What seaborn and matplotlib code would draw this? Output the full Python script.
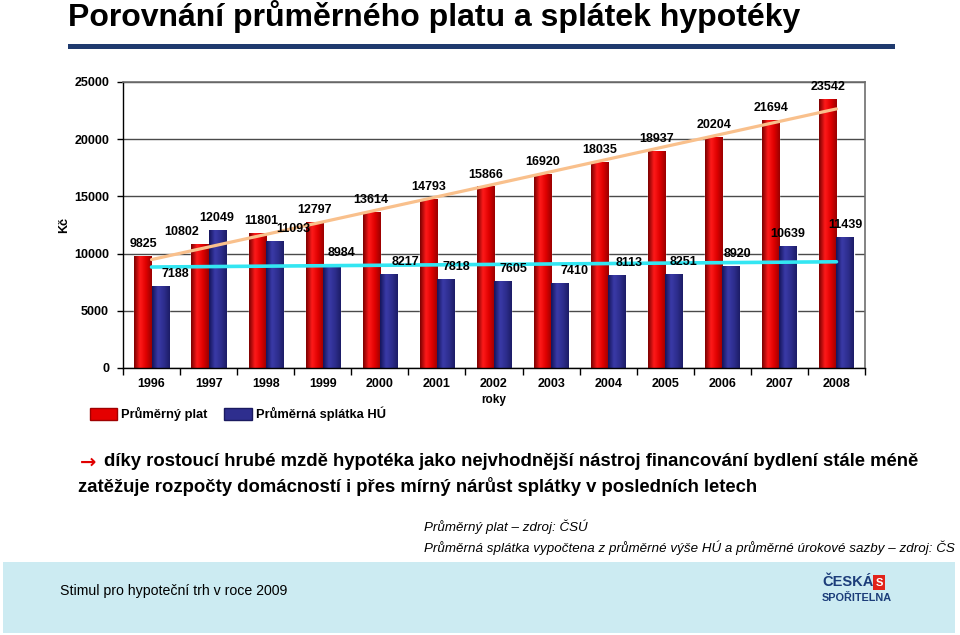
import numpy as np
import pandas as pd
import matplotlib
matplotlib.use('Agg')
import matplotlib.pyplot as plt
from matplotlib.patches import Rectangle, Patch
import seaborn as sns

# data
roky = ['1996', '1997', '1998', '1999', '2000', '2001', '2002',
        '2003', '2004', '2005', '2006', '2007', '2008']
prumerny_plat = [9825, 10802, 11801, 12797, 13614, 14793, 15866,
                 16920, 18035, 18937, 20204, 21694, 23542]
prumerna_splatka = [7188, 12049, 11093, 8984, 8217, 7818, 7605,
                    7410, 8113, 8251, 8920, 10639, 11439]
serie = ['Průměrný plat', 'Průměrná splátka HÚ']

# posun popisků (px) - ručně jako v originálu
posun_plat = [0, -18, 4, 0, 0, 0, 0, 0, 0, 0, 0, 0, 0]
posun_splatka = [15, 0, 19, 10, 17, 11, 11, 15, 12, 10, 7, 0, 0]

sns.set_theme(style='white')
FONT = ['Liberation Sans', 'DejaVu Sans']
plt.rcParams['font.family'] = FONT
plt.rcParams['text.color'] = 'black'
plt.rcParams['axes.labelcolor'] = 'black'
plt.rcParams['xtick.color'] = 'black'
plt.rcParams['ytick.color'] = 'black'

RED = '#E50000'
BLUE = '#2E2E8E'

df = pd.DataFrame({
    'rok': roky * 2,
    'hodnota': prumerny_plat + prumerna_splatka,
    'serie': [serie[0]] * len(roky) + [serie[1]] * len(roky),
})

fig = plt.figure(figsize=(9.6, 6.35), dpi=100)
ax = fig.add_axes([123 / 960, 1 - 368 / 635, 742 / 960, 286 / 635])

sns.barplot(data=df, x='rok', y='hodnota', hue='serie', palette=[RED, BLUE],
            width=0.6, gap=0, ax=ax, legend=False, zorder=2)

# gradient (válcový efekt)
grad_red = matplotlib.colors.LinearSegmentedColormap.from_list(
    'r', ['#7A0000', '#FF1A1A', '#E00000', '#9A0000'])
grad_blue = matplotlib.colors.LinearSegmentedColormap.from_list(
    'b', ['#14145A', '#3A3AA8', '#2E2E8E', '#1C1C66'])
g = np.linspace(0, 1, 64).reshape(1, -1)
bary = [p for p in ax.patches if p.get_height() > 0]
for i, p in enumerate(bary):
    x0, y0 = p.get_x(), p.get_y()
    w, h = p.get_width(), p.get_height()
    cm = grad_red if i < len(roky) else grad_blue
    im = ax.imshow(g, cmap=cm, extent=(x0, x0 + w, y0, y0 + h),
                   aspect='auto', zorder=2.5, interpolation='bicubic')
    im.set_clip_path(p)

# lineární trendy
xs = np.arange(len(roky))
sns.regplot(x=xs, y=prumerny_plat, scatter=False, ci=None, ax=ax,
            line_kws=dict(color='#F9C08C', lw=2.3, zorder=3))
sns.regplot(x=xs, y=prumerna_splatka, scatter=False, ci=None, ax=ax,
            line_kws=dict(color='#33E6F2', lw=2.6, zorder=3))

# popisky hodnot
for i in range(len(roky)):
    ax.annotate(str(prumerny_plat[i]), (i - 0.15, prumerny_plat[i]),
                xytext=(posun_plat[i] * 0.72, 8.6), textcoords='offset points',
                ha='center', va='center', fontsize=9, fontweight='bold', zorder=5)
    ax.annotate(str(prumerna_splatka[i]), (i + 0.15, prumerna_splatka[i]),
                xytext=(posun_splatka[i] * 0.72, 8.6), textcoords='offset points',
                ha='center', va='center', fontsize=9, fontweight='bold', zorder=5)

ax.set_xlim(-0.5, len(roky) - 0.5)
ax.set_ylim(0, 25000)
ax.set_yticks(range(0, 25001, 5000))
ax.set_yticklabels([str(v) for v in range(0, 25001, 5000)],
                   fontsize=9, fontweight='bold')
ax.set_xticks(xs)
ax.set_xticklabels(roky, fontsize=9, fontweight='bold')
ax.set_xticks(np.arange(-0.5, len(roky)), minor=True)
ax.tick_params(axis='x', which='major', length=0, pad=7)
ax.tick_params(axis='x', which='minor', length=5, width=1, color='black',
               direction='out', bottom=True)
ax.tick_params(axis='y', length=4, width=1, color='black', direction='out',
               left=True, pad=6)
ax.yaxis.grid(True, color='#4A4A4A', lw=1)
ax.set_axisbelow(True)
for s in ['top', 'right']:
    ax.spines[s].set_color('#6E6E6E')
    ax.spines[s].set_linewidth(1.2)
for s in ['left', 'bottom']:
    ax.spines[s].set_color('black')
    ax.spines[s].set_linewidth(1)
ax.set_xlabel('roky', fontsize=8.5, fontweight='bold', labelpad=3)
ax.set_ylabel('Kč', fontsize=9, fontweight='bold', labelpad=3)

# legenda
handles = [Patch(facecolor=RED, edgecolor='#A00000'),
           Patch(facecolor=BLUE, edgecolor='#1A1A60')]
fig.legend(handles, serie, loc='center left',
           bbox_to_anchor=(78 / 960, 1 - 414 / 635), ncol=2, frameon=False,
           handlelength=2.1, handleheight=1.0, handletextpad=0.35,
           columnspacing=1.3, prop=dict(family=FONT, weight='bold', size=9.3))

# titulek a linka
fig.text(68 / 960, 1 - 17 / 635, 'Porovnání průměrného platu a splátek hypotéky',
         ha='left', va='center', fontsize=23, fontweight='bold')
fig.add_artist(Rectangle((68 / 960, 1 - 49 / 635), 827 / 960, 5 / 635,
                         transform=fig.transFigure, color='#1F3A6E', lw=0))

# komentář
fig.text(80 / 960, 1 - 462 / 635, '→', ha='left', va='center', color='#E00000',
         fontsize=14, fontweight='bold', family=['DejaVu Sans'])
fig.text(104 / 960, 1 - 462 / 635,
         'díky rostoucí hrubé mzdě hypotéka jako nejvhodnější nástroj financování bydlení stále méně',
         ha='left', va='center', fontsize=13.3, fontweight='bold')
fig.text(78 / 960, 1 - 486 / 635,
         'zatěžuje rozpočty domácností i přes mírný nárůst splátky v posledních letech',
         ha='left', va='center', fontsize=13.3, fontweight='bold')

# zdroje
fig.text(424 / 960, 1 - 527 / 635, 'Průměrný plat – zdroj: ČSÚ',
         ha='left', va='center', fontsize=9.6, style='italic')
fig.text(424 / 960, 1 - 548 / 635,
         'Průměrná splátka vypočtena z průměrné výše HÚ a průměrné úrokové sazby – zdroj: ČS',
         ha='left', va='center', fontsize=9.6, style='italic')

# patička
fig.add_artist(Rectangle((3 / 960, 1 - 633 / 635), 952 / 960, 71 / 635,
                         transform=fig.transFigure, color='#CCEBF2', lw=0))
fig.text(60 / 960, 1 - 591 / 635, 'Stimul pro hypoteční trh v roce 2009',
         ha='left', va='center', fontsize=10.2)
fig.text(822 / 960, 1 - 582 / 635, 'ČESKÁ', ha='left', va='center',
         fontsize=10.5, fontweight='bold', color='#1C3D7A')
fig.text(822 / 960, 1 - 598 / 635, 'SPOŘITELNA', ha='left', va='center',
         fontsize=7.8, fontweight='bold', color='#1C3D7A')
fig.add_artist(Rectangle((873 / 960, 1 - 590 / 635), 12 / 960, 15 / 635,
                         transform=fig.transFigure, color='#E2231A', lw=0))
fig.text(879 / 960, 1 - 582.5 / 635, 'S', ha='center', va='center',
         fontsize=8, fontweight='bold', color='white')

fig.savefig('out.png', dpi=100)
